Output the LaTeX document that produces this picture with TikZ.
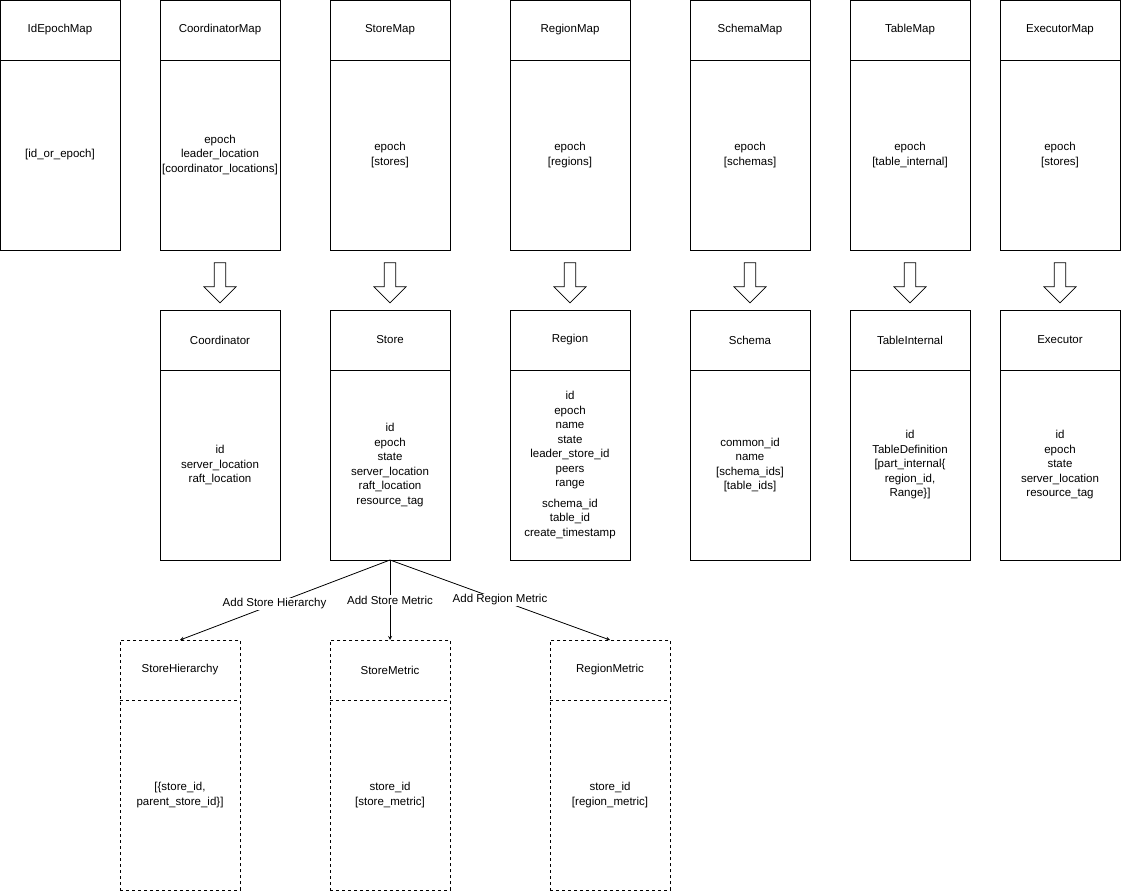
\documentclass[tikz,border=0pt]{standalone}
\usepackage{fontspec}
\setmainfont{Liberation Sans}
\usetikzlibrary{shapes.arrows}
\begin{document}
\begin{tikzpicture}[x=1pt,y=-1pt,font=\fontsize{11.5}{14.5}\selectfont,
  box/.style={draw,thick,minimum width=120pt,minimum height=250pt,anchor=north west},
  dbox/.style={box,dashed},
  hdr/.style={anchor=center},
  body/.style={align=center,anchor=center},
  blk/.style={draw,thick,single arrow,shape border rotate=270,minimum height=40pt,minimum width=32pt,single arrow head extend=8pt,inner sep=4pt,anchor=center},
  lbl/.style={fill=white,inner sep=1pt}]
\useasboundingbox (0,0) rectangle (1121,891);
\newcommand{\mybox}[6]{% name x y title body style
  \node[#6] (#1) at (#2,#3) {};
  \draw[thick,#6] (#2,#3+60) -- (#2+120,#3+60);
  \node[hdr] (#1t) at (#2+60,#3+30) {#4};
  \node[body] (#1b) at (#2+60,#3+155) {#5};}
\mybox{iem}{0}{0}{IdEpochMap}{[id\_or\_epoch]}{box}
\mybox{cm}{160}{0}{CoordinatorMap}{epoch\\leader\_location\\{[coordinator\_locations]}}{box}
\mybox{sm}{330}{0}{StoreMap}{epoch\\{[stores]}}{box}
\mybox{rm}{510}{0}{RegionMap}{epoch\\{[regions]}}{box}
\mybox{scm}{690}{0}{SchemaMap}{epoch\\{[schemas]}}{box}
\mybox{tm}{850}{0}{TableMap}{epoch\\{[table\_internal]}}{box}
\mybox{em}{1000}{0}{ExecutorMap}{epoch\\{[stores]}}{box}
\mybox{co}{160}{310}{Coordinator}{id\\server\_location\\raft\_location}{box}
\mybox{st}{330}{310}{Store}{id\\epoch\\state\\server\_location\\raft\_location\\resource\_tag}{box}
\mybox{re}{510}{310}{Region}{id\\epoch\\name\\state\\leader\_store\_id\\peers\\range\\[6pt]schema\_id\\table\_id\\create\_timestamp}{box}
\mybox{sc}{690}{310}{Schema}{common\_id\\name\\{[schema\_ids]}\\{[table\_ids]}}{box}
\mybox{ti}{850}{310}{TableInternal}{id\\TableDefinition\\{[part\_internal\{}\\region\_id,\\Range\}]}{box}
\mybox{ex}{1000}{310}{Executor}{id\\epoch\\state\\server\_location\\resource\_tag}{box}
\mybox{sh}{120}{640}{StoreHierarchy}{[\{store\_id,\\parent\_store\_id\}]}{dbox}
\mybox{smt}{330}{640}{StoreMetric}{store\_id\\{[store\_metric]}}{dbox}
\mybox{rmt}{550}{640}{RegionMetric}{store\_id\\{[region\_metric]}}{dbox}
\foreach \x in {220,390,570,750,910,1060} \node[blk] at (\x,280) {};
\coordinate (sb) at (390,560);
\coordinate (shtop) at (180,640);
\coordinate (rmtop) at (610,640);
\draw[thick,->,>=stealth] (sb) -- (shtop) node[pos=0.55,lbl] {Add Store Hierarchy};
\draw[thick,->,>=stealth] (sb) -- (390,640) node[pos=0.5,lbl] {Add Store Metric};
\draw[thick,->,>=stealth] (sb) -- (rmtop) node[pos=0.5,lbl] {Add Region Metric};
\end{tikzpicture}
\end{document}
